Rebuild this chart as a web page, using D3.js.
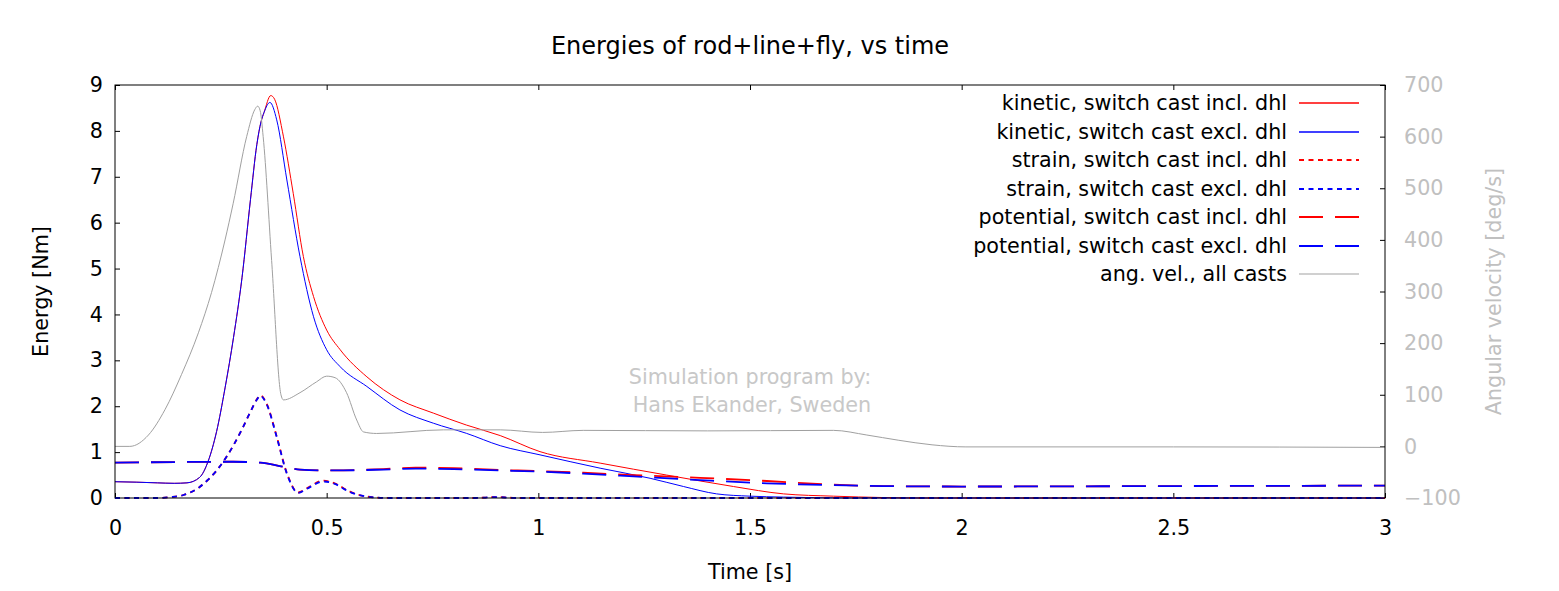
<!DOCTYPE html>
<html><head><meta charset="utf-8">
<script src="https://cdn.jsdelivr.net/npm/d3@7"></script>
<style>body{margin:0;background:#fff}text{font-family:"DejaVu Sans",sans-serif}</style>
</head><body>
<svg id="c" width="1559" height="591"></svg>
<script>
// ---- data ----
const xTicks = [0, 0.5, 1, 1.5, 2, 2.5, 3];
const yTicks = [0, 1, 2, 3, 4, 5, 6, 7, 8, 9];
const y2Ticks = [-100, 0, 100, 200, 300, 400, 500, 600, 700];

const tKinIncl = [0, 0.05, 0.1, 0.14, 0.17, 0.2, 0.22, 0.24, 0.26, 0.28, 0.3, 0.32, 0.335, 0.345, 0.352, 0.368, 0.377, 0.398, 0.421, 0.445, 0.469, 0.5, 0.532, 0.595, 0.673, 0.752, 0.83, 0.91, 1.004, 1.146, 1.303, 1.461, 1.579, 1.697, 1.815, 1.9, 3.0];
const kinIncl  = [0.355, 0.345, 0.33, 0.32, 0.33, 0.45, 0.8, 1.45, 2.4, 3.5, 4.8, 6.5, 7.7, 8.2, 8.4, 8.77, 8.69, 7.87, 6.64, 5.26, 4.39, 3.66, 3.23, 2.64, 2.14, 1.85, 1.59, 1.36, 1.01, 0.76, 0.50, 0.25, 0.09, 0.04, 0.01, 0, 0];

const tKinExcl = [0, 0.05, 0.1, 0.14, 0.17, 0.2, 0.22, 0.24, 0.26, 0.28, 0.3, 0.32, 0.335, 0.345, 0.352, 0.366, 0.382, 0.406, 0.437, 0.469, 0.5, 0.532, 0.595, 0.673, 0.752, 0.83, 0.91, 1.004, 1.146, 1.264, 1.343, 1.421, 1.5, 1.579, 1.75, 3.0];
const kinExcl  = [0.355, 0.345, 0.33, 0.32, 0.33, 0.45, 0.8, 1.45, 2.4, 3.5, 4.8, 6.5, 7.7, 8.2, 8.4, 8.62, 8.24, 6.93, 5.26, 3.95, 3.23, 2.86, 2.43, 1.92, 1.63, 1.41, 1.14, 0.94, 0.65, 0.43, 0.25, 0.09, 0.04, 0.02, 0, 0];

const tStrain    = [0, 0.1, 0.13, 0.16, 0.18, 0.2, 0.22, 0.24, 0.26, 0.28, 0.3, 0.32, 0.335, 0.343, 0.358, 0.382, 0.406, 0.433, 0.453, 0.492, 0.516, 0.555, 0.595, 0.65, 0.85, 0.9, 0.95, 1.0, 3.0];
const strainIncl = [0, 0, 0.02, 0.06, 0.13, 0.24, 0.4, 0.6, 0.85, 1.15, 1.5, 1.88, 2.15, 2.24, 2.06, 1.34, 0.54, 0.12, 0.21, 0.38, 0.33, 0.14, 0.03, 0, 0, 0.02, 0, 0, 0];
const strainExcl = [0, 0, 0.02, 0.06, 0.13, 0.24, 0.4, 0.6, 0.85, 1.15, 1.5, 1.88, 2.14, 2.23, 2.05, 1.33, 0.53, 0.11, 0.2, 0.36, 0.32, 0.13, 0.03, 0, 0, 0.02, 0, 0, 0];

const tPot    = [0, 0.279, 0.343, 0.398, 0.437, 0.516, 0.634, 0.71, 0.8, 0.91, 0.99, 1.106, 1.225, 1.382, 1.54, 1.697, 1.815, 2.0, 2.5, 3.0];
const potIncl = [0.77, 0.79, 0.77, 0.68, 0.62, 0.60, 0.63, 0.66, 0.65, 0.61, 0.59, 0.55, 0.50, 0.44, 0.37, 0.29, 0.26, 0.25, 0.26, 0.27];
const potExcl = [0.77, 0.79, 0.77, 0.68, 0.62, 0.60, 0.62, 0.64, 0.63, 0.60, 0.58, 0.53, 0.47, 0.39, 0.32, 0.28, 0.26, 0.25, 0.26, 0.27];

const tAng   = [0, 0.035, 0.079, 0.118, 0.157, 0.197, 0.228, 0.26, 0.279, 0.311, 0.33, 0.337, 0.343, 0.35, 0.37, 0.392, 0.398, 0.437, 0.476, 0.5, 0.52, 0.547, 0.571, 0.587, 0.618, 0.776, 0.91, 1.01, 1.106, 1.4, 1.697, 1.776, 1.85, 1.93, 2.01, 2.5, 3.0];
const angVel = [0, 0, 22, 71, 139, 220, 298, 400, 470, 600, 652, 659, 650, 600, 360, 100, 90, 104, 125, 136, 133, 104, 51, 28, 25, 32, 32, 27, 31, 30, 31, 22, 12, 3, -1, -1, -2];

const seriesNames = ["kinetic, switch cast incl. dhl", "kinetic, switch cast excl. dhl",
  "strain, switch cast incl. dhl", "strain, switch cast excl. dhl",
  "potential, switch cast incl. dhl", "potential, switch cast excl. dhl", "ang. vel., all casts"];

// ---- layout ----
const L = 115, R = 1385, T = 85, B = 498;
const FS = 20.7;
const svg = d3.select("#c");
const x = d3.scaleLinear([0, 3], [L, R]);
const y = d3.scaleLinear([0, 9], [B, T]);
const y2 = d3.scaleLinear([-100, 700], [B, T]);

const series = [
  {t: tKinIncl, v: kinIncl, color: "#ff0000", w: 1, dash: null, axis: y},
  {t: tKinExcl, v: kinExcl, color: "#0000ff", w: 1, dash: null, axis: y},
  {t: tStrain, v: strainIncl, color: "#ff0000", w: 1.8, dash: "5,4.5", axis: y},
  {t: tStrain, v: strainExcl, color: "#0000ff", w: 1.8, dash: "5,4.5", axis: y},
  {t: tPot, v: potIncl, color: "#ff0000", w: 1.8, dash: "24,12", axis: y},
  {t: tPot, v: potExcl, color: "#0000ff", w: 1.8, dash: "24,12", axis: y},
  {t: tAng, v: angVel, color: "#a0a0a0", w: 1, dash: null, axis: y2}
];

// title
svg.append("text").attr("x", (L + R) / 2).attr("y", 54).attr("text-anchor", "middle")
  .attr("font-size", 24).text("Energies of rod+line+fly, vs time");

// watermark
svg.append("text").attr("x", 750).attr("y", 384).attr("text-anchor", "middle")
  .attr("font-size", FS).attr("fill", "#c8c8c8").text("Simulation program by:");
svg.append("text").attr("x", 752).attr("y", 412).attr("text-anchor", "middle")
  .attr("font-size", FS).attr("fill", "#c8c8c8").text("Hans Ekander, Sweden");

// axes
function styleAxis(g, color) {
  g.attr("font-family", null).attr("font-size", FS);
  g.select(".domain").remove();
  g.selectAll(".tick line").attr("stroke", "#000");
  g.selectAll(".tick text").attr("fill", color);
}
svg.append("g").attr("transform", `translate(0,${B})`)
  .call(d3.axisBottom(x).tickValues(xTicks).tickFormat(d3.format("")).tickSizeInner(-5).tickSizeOuter(0).tickPadding(22))
  .call(g => styleAxis(g, "#000"));
svg.append("g").attr("transform", `translate(0,${T})`)
  .call(d3.axisTop(x).tickValues(xTicks).tickFormat("").tickSizeInner(-5).tickSizeOuter(0))
  .call(g => styleAxis(g, "#000"));
svg.append("g").attr("transform", `translate(${L},0)`)
  .call(d3.axisLeft(y).tickValues(yTicks).tickSizeInner(-5).tickSizeOuter(0).tickPadding(12))
  .call(g => styleAxis(g, "#000"));
svg.append("g").attr("transform", `translate(${R},0)`)
  .call(d3.axisRight(y2).tickValues(y2Ticks).tickSizeInner(-5).tickSizeOuter(0).tickPadding(19))
  .call(g => styleAxis(g, "#c0c0c0"));

// axis labels
svg.append("text").attr("x", (L + R) / 2).attr("y", 579).attr("text-anchor", "middle")
  .attr("font-size", FS).text("Time [s]");
svg.append("text").attr("transform", `translate(48,${(T + B) / 2}) rotate(-90)`).attr("text-anchor", "middle")
  .attr("font-size", FS).text("Energy [Nm]");
svg.append("text").attr("transform", `translate(1501,${(T + B) / 2}) rotate(-90)`).attr("text-anchor", "middle")
  .attr("font-size", FS).attr("fill", "#c0c0c0").text("Angular velocity [deg/s]");

// clip
svg.append("clipPath").attr("id", "clip").append("rect")
  .attr("x", L).attr("y", T - 2).attr("width", R - L).attr("height", B - T + 4);

// lines
const plot = svg.append("g").attr("clip-path", "url(#clip)");
series.forEach(s => {
  const pts = s.t.map((t, i) => [t, s.v[i]]);
  const line = d3.line().x(d => x(d[0])).y(d => s.axis(d[1])).curve(d3.curveMonotoneX);
  plot.append("path").attr("d", line(pts)).attr("fill", "none")
    .attr("stroke", s.color).attr("stroke-width", s.w)
    .attr("stroke-dasharray", s.dash);
});

// frame
svg.append("rect").attr("x", L).attr("y", T).attr("width", R - L).attr("height", B - T)
  .attr("fill", "none").attr("stroke", "#000").attr("stroke-width", 1);

// legend
const legend = svg.append("g");
seriesNames.forEach((name, i) => {
  const cy = Math.round(103 + i * 28.5);
  const s = series[i];
  legend.append("text").attr("x", 1287).attr("y", cy).attr("dy", "0.36em")
    .attr("text-anchor", "end").attr("font-size", FS).text(name);
  legend.append("line").attr("x1", 1299).attr("x2", 1359).attr("y1", cy).attr("y2", cy)
    .attr("stroke", i === 6 ? "#c0c0c0" : s.color).attr("stroke-width", Math.max(s.w, 1.3))
    .attr("stroke-dasharray", s.dash);
});
</script>
</body></html>
